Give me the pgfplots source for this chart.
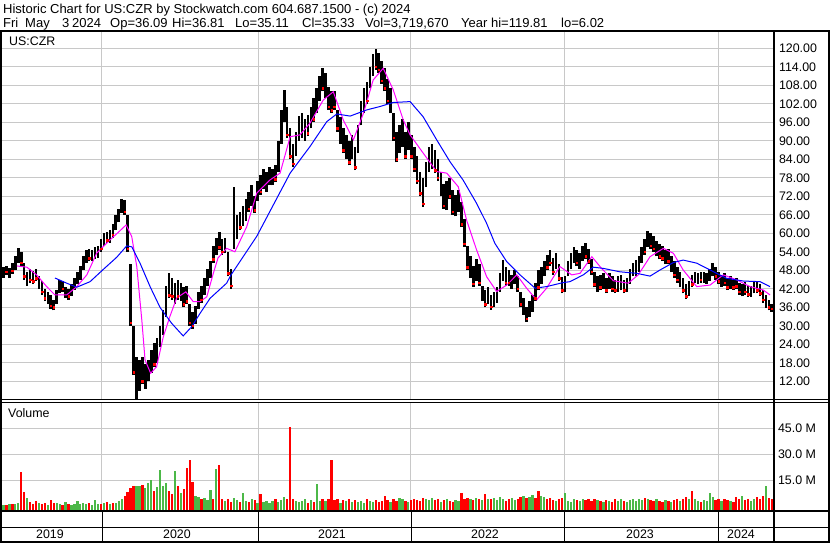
\documentclass[border=0pt]{standalone}
\usepackage{fontspec}
\setmainfont{Liberation Sans}
\usepackage{pgfplots}
\usepackage{pgfplotstable}
\pgfplotsset{compat=1.18}
\definecolor{gridc}{RGB}{200,200,200}
\definecolor{volg}{RGB}{76,184,72}
\definecolor{maC}{RGB}{255,0,255}
\definecolor{mbC}{RGB}{0,0,255}

\pgfplotstableread{
w lo hi v d
0 45.5 49.0 1.0 0
1 46.5 49.5 0.8 1
2 45.5 48.8 1.2 0
3 46.8 50.5 1.5 1
4 48.0 52.5 1.3 0
5 50.5 55.2 2.0 0
6 49.5 54.0 19.6 1
7 45.0 50.5 8.0 1
8 43.0 47.5 5.0 0
9 44.0 48.5 2.5 1
10 43.5 47.8 1.5 1
11 44.5 48.5 3.0 1
12 42.0 46.0 2.0 0
13 40.0 44.5 1.5 1
14 38.0 42.0 2.0 1
15 37.0 41.0 1.0 0
16 35.5 40.0 3.5 1
17 35.0 38.5 2.0 1
18 37.0 41.5 2.0 0
19 40.5 44.8 1.5 0
20 41.0 44.5 1.0 1
21 39.0 42.5 2.5 0
22 38.5 42.0 1.5 1
23 39.8 43.5 1.0 0
24 41.5 45.5 1.2 0
25 43.5 47.5 3.0 0
26 45.0 49.5 1.5 0
27 48.0 52.5 2.0 0
28 50.5 54.6 1.5 0
29 51.0 54.8 2.0 1
30 51.0 54.5 1.0 0
31 51.8 55.5 3.5 0
32 52.0 56.0 1.5 0
33 54.0 58.0 1.5 1
34 56.0 60.0 2.0 0
35 56.8 60.4 2.5 1
36 57.0 61.0 1.5 0
37 58.5 63.0 1.8 1
38 61.0 66.0 2.0 0
39 63.5 68.0 3.0 0
40 66.5 71.0 4.0 0
41 66.0 70.8 6.0 1
42 54.0 66.0 8.0 1
43 30.0 50.0 10.5 1
44 14.0 30.0 11.5 1
45 6.0 20.0 12.0 0
46 9.0 19.0 11.5 0
47 11.0 20.0 12.5 1
48 9.5 17.5 10.5 0
49 12.0 19.0 13.5 0
50 14.7 22.0 15.0 0
51 16.5 24.5 9.0 1
52 18.0 26.0 11.0 0
53 23.0 30.0 20.8 0
54 27.0 35.0 12.0 0
55 33.0 43.0 13.5 0
56 39.0 47.0 9.0 1
57 38.5 45.5 7.0 1
58 37.0 44.0 20.4 0
59 38.5 45.0 11.5 1
60 38.0 44.0 7.5 0
61 36.0 42.5 10.0 1
62 37.0 43.0 22.0 1
63 30.0 37.0 26.7 1
64 29.0 34.5 14.0 1
65 30.5 36.5 6.0 0
66 35.5 41.0 5.5 0
67 37.5 43.0 4.5 1
68 40.0 45.5 5.0 0
69 43.0 48.5 3.5 0
70 45.5 51.0 9.4 0
71 50.5 56.0 4.5 1
72 53.0 58.5 21.5 0
73 54.5 60.5 23.7 1
74 53.0 58.0 4.0 1
75 53.5 58.5 3.0 0
76 46.0 54.0 4.5 1
77 42.0 48.5 2.5 1
78 55.0 75.0 5.0 0
79 58.0 66.0 3.5 0
80 61.0 67.0 2.5 1
81 62.5 69.0 7.7 0
82 64.0 71.0 3.0 0
83 67.0 73.5 2.5 1
84 69.0 75.5 4.0 0
85 66.5 72.0 3.5 1
86 70.5 77.0 2.0 0
87 72.5 79.0 7.0 1
88 74.5 81.0 2.5 0
89 73.5 80.0 3.0 0
90 75.5 81.6 2.0 0
91 75.5 81.0 3.0 0
92 76.5 82.0 4.0 1
93 80.0 90.0 2.5 0
94 89.0 100.0 3.5 0
95 96.0 106.4 5.5 0
96 91.0 101.0 4.5 1
97 84.0 94.0 46.0 1
98 81.6 89.0 4.0 1
99 85.0 93.0 3.0 0
100 90.0 98.0 2.5 0
101 91.0 99.0 3.0 0
102 90.0 97.0 4.5 0
103 91.5 98.5 2.0 1
104 94.0 101.0 3.5 0
105 96.0 104.0 2.5 1
106 99.0 107.0 12.7 0
107 103.0 111.0 3.0 0
108 106.0 113.6 4.0 1
109 104.0 112.0 3.0 0
110 100.0 107.5 4.5 1
111 99.0 106.0 27.0 1
112 100.0 106.0 3.5 1
113 93.0 100.0 4.0 1
114 89.0 97.7 2.0 0
115 86.0 94.0 3.5 1
116 84.0 92.0 3.0 0
117 82.0 90.0 4.0 1
118 84.0 92.0 2.5 0
119 80.5 88.0 3.5 1
120 86.0 95.0 2.5 0
121 95.0 103.0 3.0 0
122 99.0 107.0 2.0 0
123 102.0 109.0 4.5 1
124 107.0 114.0 3.0 0
125 111.0 118.0 2.5 0
126 113.0 119.8 3.5 1
127 112.0 118.5 2.5 1
128 108.5 116.0 3.0 1
129 106.0 113.5 6.0 1
130 102.0 110.0 3.5 1
131 99.0 107.0 2.5 0
132 90.0 99.0 4.0 1
133 83.0 93.0 3.0 1
134 86.0 95.0 5.0 0
135 88.0 97.0 4.0 0
136 84.0 93.0 3.0 1
137 87.0 96.0 2.5 0
138 84.0 92.0 3.5 1
139 80.0 88.0 4.0 1
140 76.0 85.0 3.5 1
141 72.0 80.0 3.0 1
142 68.6 78.0 5.0 1
143 75.0 83.0 4.0 0
144 80.0 88.0 3.5 0
145 81.0 89.0 5.0 0
146 79.5 87.0 3.5 1
147 77.0 84.0 4.5 1
148 72.0 80.0 2.5 0
149 68.0 76.0 3.5 1
150 67.5 77.0 4.0 0
151 71.0 78.0 3.0 1
152 66.0 74.0 2.5 1
153 65.5 72.5 3.5 0
154 67.0 74.0 3.0 0
155 62.0 70.0 7.8 1
156 55.6 64.5 4.5 1
157 48.0 56.0 5.0 1
158 45.5 52.5 4.0 0
159 42.7 49.5 3.5 1
160 44.5 51.5 5.0 0
161 43.0 50.0 4.5 1
162 38.0 43.0 3.5 0
163 36.0 41.5 7.3 1
164 37.0 42.5 4.0 0
165 35.2 40.0 4.5 1
166 36.0 41.0 5.0 0
167 37.5 42.7 3.5 0
168 41.0 47.0 5.5 0
169 44.5 51.3 4.5 0
170 43.0 49.0 3.0 1
171 43.0 48.0 4.0 1
172 42.0 46.5 5.0 0
173 43.5 48.0 3.5 0
174 41.0 46.0 4.5 1
175 36.0 41.0 5.5 1
176 33.5 39.0 6.0 0
177 31.3 36.0 5.0 1
178 33.0 38.0 5.5 0
179 34.5 40.0 6.5 0
180 38.0 44.0 5.0 1
181 41.5 48.0 8.6 1
182 43.5 49.0 6.0 0
183 46.0 51.0 5.5 0
184 48.0 53.0 4.0 1
185 49.5 54.6 5.0 1
186 46.5 52.0 3.5 1
187 48.5 53.5 3.0 0
188 44.5 50.0 4.5 1
189 40.5 45.8 5.0 1
190 41.0 46.0 7.8 0
191 46.0 51.0 3.0 0
192 48.5 53.5 2.5 0
193 50.5 55.6 4.0 0
194 49.5 54.5 3.5 1
195 48.5 53.5 3.0 0
196 51.0 56.0 4.5 0
197 51.5 56.8 3.5 1
198 50.0 55.0 4.0 1
199 46.5 51.5 3.0 1
200 42.5 47.5 4.5 1
201 41.0 46.0 3.5 0
202 41.5 46.5 3.0 1
203 42.0 47.0 2.5 0
204 40.6 45.5 3.5 1
205 42.0 47.0 3.0 0
206 41.0 46.0 2.5 1
207 40.6 45.0 4.0 1
208 41.0 46.0 3.0 0
209 41.5 46.5 4.5 0
210 40.6 45.0 3.0 1
211 40.8 45.5 2.5 0
212 43.5 48.5 3.5 0
213 46.0 50.5 4.5 0
214 46.0 51.3 3.0 0
215 47.5 52.5 4.0 0
216 50.5 55.5 3.5 0
217 53.0 58.0 5.0 1
218 55.5 60.7 4.0 0
219 55.0 60.0 3.5 1
220 54.0 59.0 3.0 1
221 52.5 57.5 4.0 0
222 51.5 56.5 3.0 1
223 51.0 56.0 2.5 1
224 50.0 54.5 3.5 0
225 50.0 55.0 3.0 1
226 47.5 52.5 2.5 0
227 45.5 51.0 3.5 1
228 44.0 49.0 4.0 1
229 42.5 47.5 3.0 0
230 40.5 45.5 4.5 1
231 38.6 43.5 5.5 1
232 39.5 44.5 4.5 0
233 42.5 46.5 8.6 1
234 44.0 47.5 4.0 0
235 43.5 47.0 3.0 0
236 44.0 47.5 2.5 1
237 44.0 47.5 3.5 0
238 43.5 47.0 3.0 0
239 44.5 48.5 7.8 0
240 46.0 50.3 5.5 0
241 45.0 49.0 3.5 1
242 43.5 47.5 4.0 1
243 42.5 46.5 3.0 0
244 43.0 47.0 4.5 1
245 41.6 45.5 3.5 1
246 42.0 46.0 3.0 0
247 41.6 45.0 2.5 1
248 41.8 45.5 5.5 1
249 40.0 44.0 4.0 1
250 39.5 43.5 6.0 0
251 40.0 44.2 3.5 1
252 39.3 43.0 4.5 1
253 39.3 43.0 3.0 0
254 40.5 44.5 4.0 0
255 40.5 44.5 5.5 1
256 39.5 43.5 4.0 1
257 37.5 41.5 6.0 1
258 35.8 40.0 11.5 0
259 35.0 38.5 5.0 1
260 34.5 37.0 4.0 1
}\weekly

\begin{document}
\begin{tikzpicture}[x=1pt,y=1pt]
\useasboundingbox (0,0) rectangle (830,543);
\fill[white] (0,0) rectangle (830,543);

% ---------- price panel ----------
\begin{axis}[at={(2pt,143pt)}, anchor=south west, scale only axis,
  width=772pt, height=369pt,
  xmin=-0.51, xmax=260.75, ymin=5.92, ymax=125.6,
  axis line style={draw=none}, tick style={draw=none},
  xtick={33.33,86.13,137.9,189.7,241.8}, xticklabels={},
  ytick={12,18,...,120}, yticklabel pos=right,
  grid=major, major grid style={gridc, line width=1pt},
  yticklabel style={anchor=west, xshift=1.5pt, font=\fontsize{12.4}{14}\selectfont},
  /pgf/number format/.cd, fixed, fixed zerofill, precision=2, 1000 sep={}, assume math mode=true]
\addplot[black, line width=2.6pt, mark=none, quiver={u=0, v=\thisrow{hi}-\thisrow{lo}}]
  table[x=w, y=lo] {\weekly};
\addplot[only marks, mark=square*, mark size=0.8pt, red, restrict y to domain=0:200]
  table[x=w, y expr={ifthenelse(\thisrow{d}==1,\thisrow{lo}+1,-100)}] {\weekly};
\addplot[maC, line width=1pt, mark=none] coordinates {
(4.5,49.4) (7.9,49) (11.2,46.5) (14.6,42.7) (17.4,40) (21.4,40) (24.8,42.7) (28.2,46.5)
(31.5,53.5) (36,57.8) (39.4,60.8) (41.5,62.7) (43.4,58.9) (45.1,49.2) (46.8,31.9)
(47.9,18.9) (49.8,14.6) (51.8,16.7) (54.1,26.5) (56.3,33) (58.6,39) (61.7,41)
(64.2,37.8) (66.5,37.8) (68.8,39.4) (71,47) (72.6,52) (75.5,55.1) (78.3,54)
(82.3,62.1) (85.7,73) (90.2,77.3) (93.6,79.5) (97,91.3) (100.3,91.9) (103.7,95.7)
(108.2,103.2) (111.6,105.9) (115,96.7) (118.4,90.3) (121.8,98.9) (125.1,109.7)
(128.5,113.5) (131.9,106.5) (135.3,96.7) (137.6,91.9) (142.1,85.9) (146.6,80)
(150,79.5) (153.9,75.1) (156.7,64.3) (160.1,54.6) (163.5,45.9) (166.9,41.1)
(170.3,43.2) (173.7,46.5) (177,42.2) (180.4,38.4) (183.8,42.2) (188.3,49.2)
(192.3,46.5) (195.1,47) (199.1,52.4) (202.4,48.6) (206.4,44.6) (211.4,43.8)
(214.8,46.5) (218.8,52.4) (223.3,55.1) (226.7,53.5) (230,48.1) (234.6,42.7)
(239.1,43.2) (243.6,46.5) (248.1,44.9) (252.6,42.7) (257.1,41.6) (259.4,40)};
\addplot[mbC, line width=1pt, mark=none] coordinates {
(17.4,45.5) (21.4,43.8) (24.8,42.5) (29.3,44.3) (33.8,48.3) (38.3,52.2) (41.7,55.9)
(43.4,55.6) (46.2,50.3) (49.6,42.7) (53,35.9) (56.9,30.8) (60.8,26.7) (63.7,29.7)
(66.5,34) (69.9,38.9) (75.5,43.8) (77,46.5) (85.7,59) (97,79.5) (103.7,88.1)
(109.4,96.2) (112.8,98.7) (117.3,98) (122.9,100) (127.4,101.1) (131.8,102.4)
(137.6,102.7) (142,97.8) (146.6,90.3) (151.1,83.2) (155.5,77.3) (160.1,69.7)
(163.5,63.2) (166.3,56.7) (170.3,50.8) (174.8,46.5) (179.9,42.2) (183.8,42.7)
(189.4,44) (191.7,44.3) (196.2,46.5) (199.6,49) (203,48.6) (208.6,47.5) (214.3,47)
(218.8,46.1) (222.2,48.1) (226.7,50.5) (230,51.3) (234.6,50.3) (239.1,48.1)
(244.7,45.4) (250.4,44.5) (256,44.3) (259.4,42.7)};
\end{axis}

% ---------- volume panel ----------
\begin{axis}[at={(2pt,32pt)}, anchor=south west, scale only axis,
  width=772pt, height=108pt,
  xmin=-0.51, xmax=260.75, ymin=-2.7, ymax=59.6,
  axis line style={draw=none}, tick style={draw=none},
  xtick={33.33,86.13,137.9,189.7,241.8}, xticklabels={},
  ytick={15,30,45}, yticklabels={15.0 M,30.0 M,45.0 M}, yticklabel pos=right,
  grid=major, major grid style={gridc, line width=1pt},
  yticklabel style={anchor=west, xshift=0.5pt, font=\fontsize{12.4}{14}\selectfont}]
\addplot[red, line width=2.3pt, mark=none, restrict y to domain=-10:100,
  quiver={u=0, v=\thisrow{v}+3}]
  table[x=w, y expr={ifthenelse(\thisrow{d}==1,-3,-100)}] {\weekly};
\addplot[volg, line width=2.3pt, mark=none, restrict y to domain=-10:100,
  quiver={u=0, v=\thisrow{v}+3}]
  table[x=w, y expr={ifthenelse(\thisrow{d}==0,-3,-100)}] {\weekly};
\end{axis}

% ---------- frame ----------
\draw[line width=2pt] (1,1) rectangle (829,512);
\draw[line width=2pt] (774,1) -- (774,512);
\draw[line width=1pt] (1,143.5) -- (829,143.5);
\draw[line width=1pt] (1,140.5) -- (829,140.5);
\draw[line width=1.5pt] (1,32) -- (829,32);
\draw[line width=1pt] (1,15.5) -- (829,15.5);
\foreach \x in {102,258,411,564,718} \draw[line width=1pt] (\x,1) -- (\x,32);

% ---------- texts ----------
\node[anchor=base west, inner sep=0pt, font=\fontsize{13}{15}\selectfont] at (3,529)
  {Historic Chart for US:CZR by Stockwatch.com 604.687.1500 - (c) 2024};
\foreach \x/\t in {3/Fri,25/May,62/3,72/2024,110/Op=36.09,172/Hi=36.81,235/Lo=35.11,302/Cl=35.33,365/{Vol=3,719,670},461/Year hi=119.81,561/lo=6.02}
  \node[anchor=base west, inner sep=0pt, font=\fontsize{13}{15}\selectfont] at (\x,515) {\t};
\node[anchor=base west, inner sep=0pt, font=\fontsize{12.4}{14}\selectfont] at (9,497) {US:CZR};
\node[anchor=base west, inner sep=0pt, font=\fontsize{12.4}{14}\selectfont] at (8,125) {Volume};
\foreach \x/\t in {50/2019,177/2020,332/2021,485/2022,640/2023,741/2024}
  \node[anchor=base, inner sep=0pt, font=\fontsize{12.4}{14}\selectfont] at (\x,4) {\t};
\end{tikzpicture}
\end{document}
